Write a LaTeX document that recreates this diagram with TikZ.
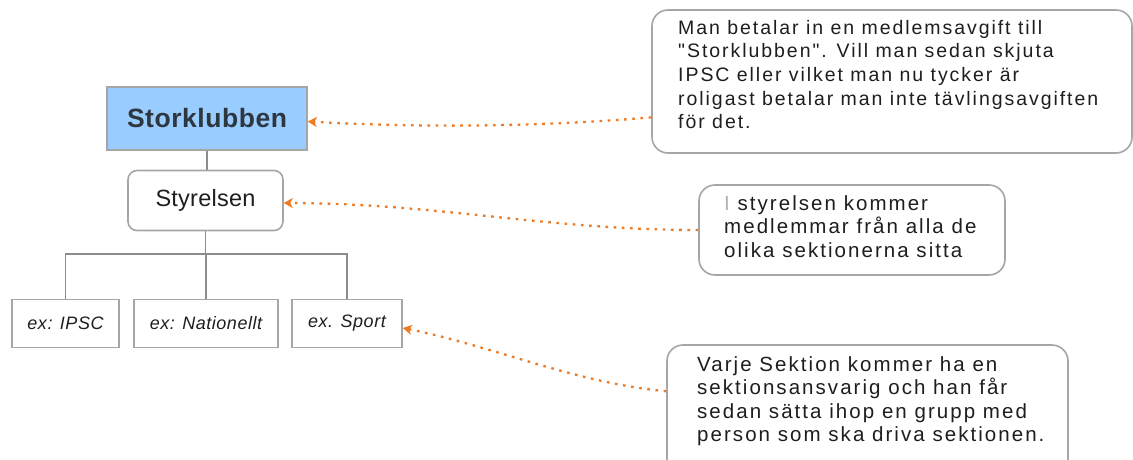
\documentclass[tikz,border=0pt]{standalone}
\usepackage{fontspec}
\setmainfont{Liberation Sans}
\newfontfamily\titlefont{Liberation Sans}[LetterSpace=2]
\newfontfamily\styrfont{Liberation Sans}[LetterSpace=1]
\newfontfamily\leaffont{Liberation Sans}[LetterSpace=3]
\newfontfamily\notefont{Liberation Sans}[LetterSpace=10]
\usetikzlibrary{arrows.meta,calc}
\definecolor{boxfill}{HTML}{99CCFF}
\definecolor{boxborder}{HTML}{A6A6A6}
\definecolor{treeline}{HTML}{8C8C8C}
\definecolor{notelink}{HTML}{EE7A22}
\definecolor{textdark}{HTML}{1E1E1E}
\definecolor{titletext}{HTML}{2E3640}
\begin{document}
\begin{tikzpicture}[x=1pt,y=-1pt,
  topbox/.style={draw=boxborder, line width=1.6pt, fill=boxfill, minimum width=200pt, minimum height=63pt, inner sep=0pt,
    font=\titlefont\bfseries\fontsize{26.5}{30}\selectfont, text=titletext},
  midbox/.style={draw=boxborder, line width=1.6pt, fill=white, rounded corners=9pt, minimum width=155pt, minimum height=60pt, inner sep=0pt,
    font=\styrfont\fontsize{23.5}{27}\selectfont, text=textdark},
  leafbox/.style={draw=boxborder, line width=1.6pt, fill=white, minimum height=48pt, inner sep=0pt,
    font=\leaffont\itshape\fontsize{18}{21}\selectfont, text=textdark},
  notebox/.style={draw=boxborder, line width=1.6pt, fill=white, rounded corners=16pt, inner sep=0pt},
  notetext/.style={anchor=north west, align=left, inner sep=0pt, font=\notefont\fontsize{19.5}{23.6}\selectfont, text=textdark},
  bignote/.style={notetext, font=\notefont\fontsize{20.5}{23.6}\selectfont},
  tree/.style={draw=treeline, line width=1.6pt},
  link/.style={draw=notelink, line width=2.3pt, dash pattern=on 2.6pt off 5.6pt, -{Stealth[length=9pt,width=10pt,inset=2.5pt]}}
]
\useasboundingbox (0,0) rectangle (1133,459);
\clip (0,0) rectangle (1133,459);

% tree
\node[topbox] (stork) at (207,118.5) {Storklubben};
\node[midbox] (styr) at (205.5,200.5) {Styrelsen};
\node[leafbox, minimum width=107pt] (ipsc) at (65.5,323.5) {ex: IPSC};
\node[leafbox, minimum width=144pt] (nat) at (206,323.5) {ex: Nationellt};
\node[leafbox, minimum width=110pt] (sport) at (347,323.5) {ex. Sport};
\coordinate (bus) at (206,254);

\draw[tree] (stork.south) -- (stork.south |- styr.north);
\draw[tree] (styr.south) -- (styr.south |- bus);
\draw[tree] (ipsc.north) |- (bus) -| (sport.north);
\draw[tree] (bus) -- (nat.north);

% callouts
\node[notebox, minimum width=480pt, minimum height=143pt] (c1) at (892,81.5) {};
\node[notetext] (t1) at (678,20) {Man betalar in en medlemsavgift till\\"Storklubben". Vill man sedan skjuta\\IPSC eller vilket man nu tycker är\\roligast betalar man inte tävlingsavgiften\\för det.};

\node[notebox, minimum width=306pt, minimum height=90pt] (c2) at (852,230) {};
\node[bignote] (t2) at (724,195) {{\color{black!30}I} styrelsen kommer\\medlemmar från alla de\\olika sektionerna sitta};

\node[notebox, minimum width=401pt, minimum height=130pt] (c3) at (867.5,410) {};
\node[bignote] (t3) at (697,356) {Varje Sektion kommer ha en\\sektionsansvarig och han får\\sedan sätta ihop en grupp med\\person som ska driva sektionen.};

% links
\draw[link] ($(c1.north west)!0.748!(c1.south west)$) .. controls +(-120,10) and +(110,6) .. ([yshift=-3pt]stork.east);
\draw[link] (c2.west) .. controls +(-150,0) and +(150,0) .. ([yshift=-2.5pt]styr.east);
\draw[link] ($(c3.north west)+(0,47)$) .. controls +(-90,-8) and +(90,18) .. ([yshift=-4.5pt]sport.east);
\end{tikzpicture}
\end{document}
